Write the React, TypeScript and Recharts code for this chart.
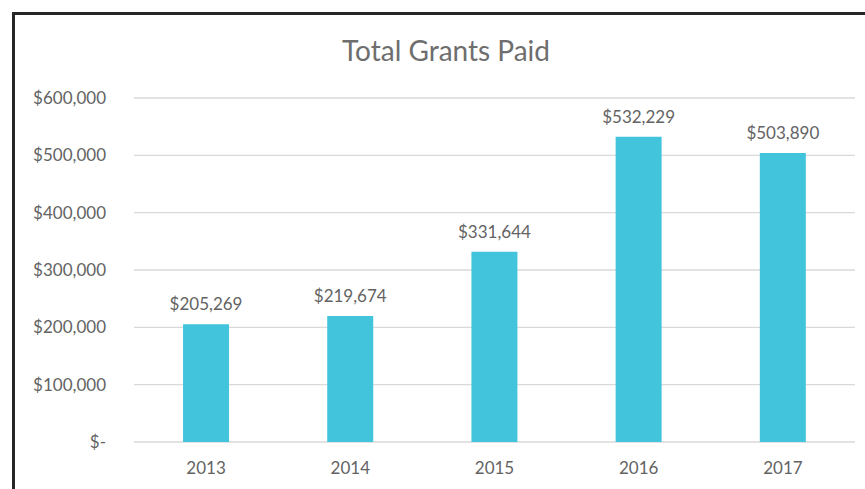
import { BarChart, Bar, XAxis, YAxis, CartesianGrid, LabelList } from "recharts";

const years = ["2013", "2014", "2015", "2016", "2017"];
const grantsPaid = [205269, 219674, 331644, 532229, 503890];
const yTicks = [0, 100000, 200000, 300000, 400000, 500000, 600000];

const data = years.map((year, i) => ({ year, paid: grantsPaid[i] }));

const fmtMoney = (v: number) => (v === 0 ? "$-" : "$" + v.toLocaleString("en-US"));

const FONT = "Lato, 'Open Sans', sans-serif";
const GREY = "#636363";

const App = () => {
  return (
    <div style={{ position: "fixed", left: 0, top: 0, width: 865, height: 489, overflow: "hidden", background: "#fff" }}>
      <div
        style={{
          position: "absolute",
          left: 12,
          top: 12,
          width: 864,
          height: 500,
          border: "3px solid #262626",
          boxSizing: "border-box"
        }}
      />
      <div
        style={{
          position: "absolute",
          left: 12,
          top: 33,
          width: 868,
          textAlign: "center",
          fontFamily: FONT,
          fontSize: 28,
          color: "#6e6e6e"
        }}
      >
        Total Grants Paid
      </div>
      <div style={{ position: "absolute", left: 0, top: 0 }}>
        <BarChart
          width={865}
          height={489}
          data={data}
          margin={{ top: 98, right: 10, left: 34, bottom: 17 }}
          barCategoryGap="34%"
        >
          <CartesianGrid vertical={false} stroke="#d9d9d9" strokeWidth={1.3} />
          <XAxis
            dataKey="year"
            axisLine={false}
            tickLine={false}
            height={30}
            tick={{ fill: GREY, fontSize: 17, fontFamily: FONT }}
            tickMargin={14}
          />
          <YAxis
            width={100}
            domain={[0, 600000]}
            ticks={yTicks}
            axisLine={false}
            tickLine={false}
            tickFormatter={fmtMoney}
            tick={{ fill: GREY, fontSize: 17, fontFamily: FONT }}
            tickMargin={22}
          />
          <Bar dataKey="paid" fill="#42c4dc" isAnimationActive={false}>
            <LabelList
              dataKey="paid"
              position="top"
              offset={14}
              formatter={(v: any) => fmtMoney(Number(v))}
              style={{ fill: GREY, fontSize: 17, fontFamily: FONT }}
            />
          </Bar>
        </BarChart>
      </div>
    </div>
  );
};

export default App;
